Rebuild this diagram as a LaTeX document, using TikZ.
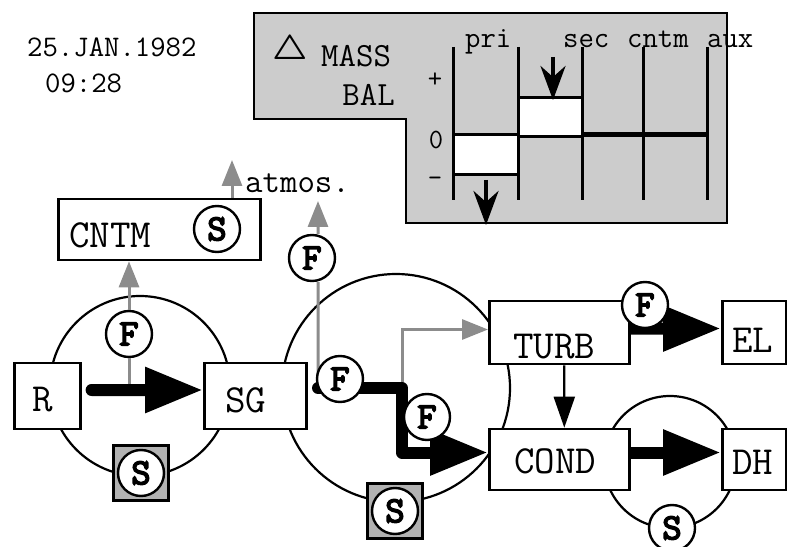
\documentclass[tikz,border=0pt]{standalone}
\usepackage{bm}
\usetikzlibrary{arrows.meta}

\newcommand\datefont{\fontsize{30}{36}\selectfont\ttfamily}
\newcommand\panelfont{\fontsize{34}{40}\selectfont\ttfamily}
\newcommand\colfont{\fontsize{30}{36}\selectfont\ttfamily}
\newcommand\axisfont{\fontsize{28}{28}\selectfont\ttfamily}
\newcommand\boxfont{\fontsize{40}{40}\selectfont\ttfamily}
\font\tagfnt="[lmmono10-regular.otf]:embolden=4" at 37bp
\newcommand\tagfont{\tagfnt}

\begin{document}
\begin{tikzpicture}[x=1bp, y=-1bp, inner sep=0pt,
        box/.style={draw, fill=white, line width=2.6bp, inner ysep=0pt, align=left, anchor=base west, font=\boxfont},
        ring/.style={draw, line width=2.2bp},
        flow/.style={draw, circle, fill=white, line width=2.4bp, minimum size=46bp, inner sep=0pt, font=\tagfont},
        store/.style={draw, fill=black!30, line width=2.6bp, minimum size=55bp},
        heat/.style={line width=12bp, line join=round, -{Triangle[length=58bp,width=43bp]}},
        vent/.style={black!45, line width=3bp, -{Triangle[length=26bp,width=20bp]}},
        bleed/.style={black!45, line width=3bp},
        bar/.style={line width=3bp},
        drop/.style={line width=4bp, -{Stealth[length=34bp,width=25bp]}}
    ]
    \useasboundingbox (0,0) rectangle (787,547);

    % date
    \node[font=\datefont, anchor=base west] (date) at (27,57) {25.JAN.1982};
    \node[font=\datefont, anchor=base west] (time) at (45,93) {09:28};

    % mass balance panel
    \draw[line width=2.6bp, fill=black!20] (254,13) -- (727,13) -- (727,223) -- (406,223) -- (406,119) -- (254,119) -- cycle;
    \node[font=\fontsize{24.88}{24.88}\selectfont, scale=1.4] (delta) at (290,51) {$\bm{\bigtriangleup}$};
    \node[font=\panelfont, anchor=base west] (mass) at (321,67) {MASS};
    \node[font=\panelfont, anchor=base east] (bal) at (395,106) {BAL};
    \node[font=\axisfont] (plus) at (435,80) {+};
    \node[font=\axisfont] (zero) at (436,140) {0};
    \node[font=\axisfont] (minus) at (435,182) {-};
    \foreach \x in {453,518,582,643,707}
        \draw[bar] (\x,47) -- (\x,200);
    \draw[line width=5bp] (582,135) -- (707,135);
    \draw[bar, fill=white] (453,135) rectangle (518,175);
    \draw[bar, fill=white] (518,98) rectangle (582,137);
    \draw[drop] (553,57) -- (553,100);
    \draw[drop] (486,180) -- (486,225);
    \node[font=\colfont, anchor=base west] (pri) at (465,48) {pri};
    \node[font=\colfont, anchor=base west] (sec) at (563,48) {sec};
    \node[font=\colfont, anchor=base west] (cntmcol) at (627,48) {cntm};
    \node[font=\colfont, anchor=base west] (aux) at (707,48) {aux};

    % loops
    \draw[ring] (140,386) circle (90bp);
    \draw[ring] (396,388) circle (114bp);
    \draw[ring] (670,462) circle (66bp);

    % components
    \node[box, inner xsep=11bp, text width=180bp, text height=49bp, text depth=12bp] (cntm) at (57,248) {CNTM};
    \node[box, inner xsep=18bp, text width=30bp, text height=48bp, text depth=18bp] (r) at (13,411) {R};
    \node[box, inner xsep=21bp, text width=60bp, text height=49bp, text depth=17bp] (sg) at (203,412) {SG};
    \node[box, inner xsep=24bp, text width=92bp, text height=57bp, text depth=6bp] (turb) at (488,358) {TURB};
    \node[box, inner xsep=10bp, text width=44bp, text height=51bp, text depth=12bp] (el) at (721,352) {EL};
    \node[box, inner xsep=25bp, text width=90bp, text height=44bp, text depth=17bp] (cond) at (488,473) {COND};
    \node[box, inner xsep=10bp, text width=44bp, text height=45bp, text depth=16bp] (dh) at (721,474) {DH};
    \node[font=\panelfont, anchor=base west] (atmos) at (245,193) {atmos.};

    \node[flow] (f1) at (129,334) {F};
    \node[flow] (f2) at (312,258) {F};

    \coordinate (vent) at (232,160);
    \coordinate (stack) at (318,201);
    \coordinate (split) at (318,388);
    \coordinate (bend) at (402,388);

    % gray side flows
    \draw[vent] (vent |- cntm.north) -- (vent);
    \draw[vent] (f1.north) -- (f1.north |- cntm.south);
    \draw[bleed] (f1.south) -- (f1.south |- r.east);
    \draw[vent] ([xshift=6bp]f2.north) -- (stack);
    \draw[bleed] ([xshift=6bp]f2.south) -- (split);
    \draw[vent] (bend) |- ([yshift=3bp]turb.west);

    % main flows
    \draw[heat, line cap=round, shorten <=10bp] ([yshift=6bp]r.east) -- ([yshift=6bp]sg.west);
    \draw[heat, line cap=round] (split) -- (bend) |- ([yshift=7bp]cond.west);
    \draw[heat] ([yshift=4bp]turb.east) -- ([yshift=4bp]el.west);
    \draw[heat] ([yshift=7bp]cond.east) -- ([yshift=7bp]dh.west);
    \draw[line width=2.2bp, -{Triangle[length=31bp,width=21bp]}] ([xshift=5bp]turb.south) -- ([xshift=5bp]cond.north);

    % flow and storage tags
    \node[store] (sq1) at (141,473) {};
    \node[store] (sq2) at (395,511) {};
    \node[flow] (s1) at (217,229) {S};
    \node[flow] (s2) at (141,473) {S};
    \node[flow] (s3) at (395,511) {S};
    \node[flow] (s4) at (672,528) {S};
    \node[flow] (f3) at (340,379) {F};
    \node[flow] (f4) at (427,417) {F};
    \node[flow] (f5) at (645,305) {F};

\end{tikzpicture}
\end{document}
